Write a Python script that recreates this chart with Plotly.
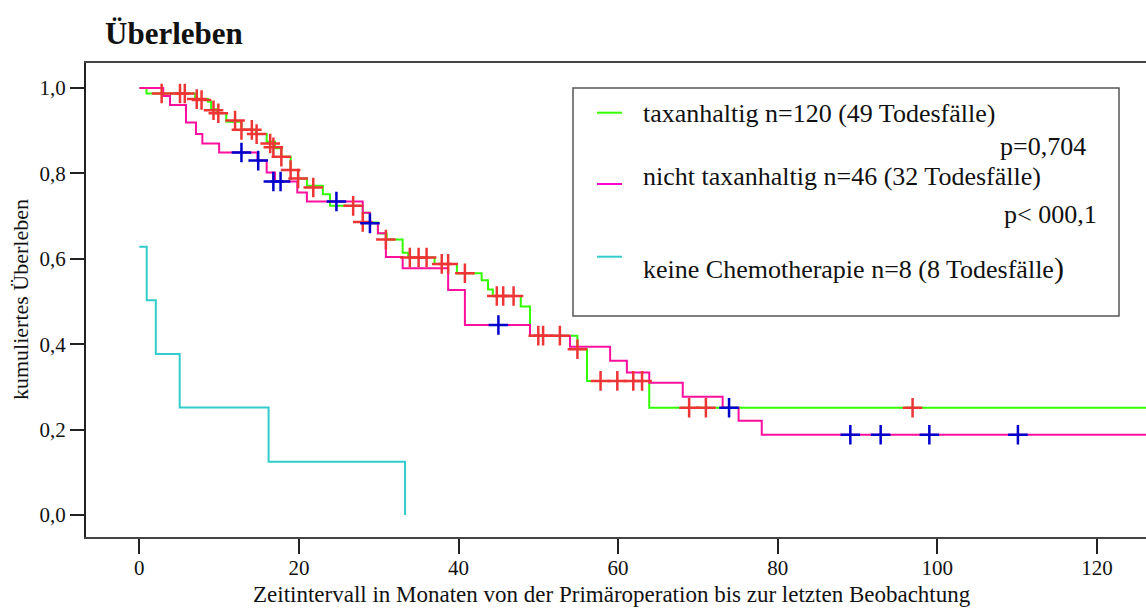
import plotly.graph_objects as go

# ---------------- data ----------------
taxan_t = [0, 0.9, 7.0, 8.6, 9.0, 9.7, 10.9, 12.8, 14.6, 15.96, 17.0, 17.8, 18.96, 19.9,
           21.0, 23.0, 23.9, 28.0, 28.9, 29.9, 31.0, 33.0, 33.7, 37.0, 39.8, 42.9, 43.7,
           44.3, 47.8, 48.96, 54.9, 56.1, 63.9, 130]
taxan_s = [1.0, 0.987, 0.974, 0.968, 0.950, 0.941, 0.921, 0.902, 0.892, 0.874, 0.859, 0.839,
           0.808, 0.788, 0.771, 0.751, 0.724, 0.708, 0.685, 0.659, 0.645, 0.614, 0.603, 0.588,
           0.566, 0.550, 0.528, 0.513, 0.488, 0.420, 0.388, 0.314, 0.251, 0.251]

nontaxan_t = [0, 3.0, 3.85, 5.85, 7.1, 7.9, 10.0, 14.8, 15.96, 17.0, 19.8, 21.0, 28.0, 28.9,
              29.9, 30.9, 33.0, 38.7, 40.8, 48.96, 53.97, 59.0, 61.1, 63.9, 68.1, 73.1, 75.1,
              78.0, 130]
nontaxan_s = [1.0, 0.981, 0.960, 0.919, 0.892, 0.870, 0.849, 0.830, 0.802, 0.781, 0.755,
              0.734, 0.708, 0.683, 0.660, 0.604, 0.578, 0.527, 0.445, 0.420, 0.394, 0.361,
              0.334, 0.310, 0.277, 0.251, 0.221, 0.188, 0.188]

nochemo_t = [0, 0.93, 2.07, 5.06, 16.2, 33.3]
nochemo_s = [0.628, 0.503, 0.377, 0.252, 0.125, 0.0]

# censored observations
taxan_cens_t = [2.8, 5.1, 5.7, 7.2, 7.8, 9.3, 9.9, 12.0, 12.8, 14.1, 14.7, 16.4, 16.8, 17.8,
                18.96, 19.9, 21.8, 26.8, 28.0, 30.9, 33.9, 35.0, 36.0, 37.9, 38.7, 40.8,
                44.8, 45.6, 46.9, 50.0, 50.6, 52.7, 54.9, 57.8, 59.9, 61.9, 63.0, 68.9, 71.0,
                96.9]
taxan_cens_s = [0.987, 0.987, 0.987, 0.974, 0.972, 0.948, 0.941, 0.924, 0.902, 0.902, 0.892,
                0.870, 0.861, 0.839, 0.808, 0.788, 0.767, 0.724, 0.686, 0.645, 0.603, 0.603,
                0.603, 0.588, 0.588, 0.566, 0.513, 0.513, 0.513, 0.420, 0.420, 0.420, 0.388,
                0.314, 0.314, 0.314, 0.314, 0.251, 0.251, 0.251]

nontaxan_cens_t = [12.8, 14.9, 16.8, 17.7, 24.7, 28.9, 45.0, 73.9, 89.1, 92.9, 99.0, 110.1]
nontaxan_cens_s = [0.849, 0.830, 0.781, 0.781, 0.734, 0.683, 0.445, 0.251, 0.188, 0.188,
                   0.188, 0.188]

x_tick_vals = [0, 20, 40, 60, 80, 100, 120]
x_tick_text = ["0", "20", "40", "60", "80", "100", "120"]
y_tick_vals = [0.0, 0.2, 0.4, 0.6, 0.8, 1.0]
y_tick_text = ["0,0", "0,2", "0,4", "0,6", "0,8", "1,0"]

legend_labels = ["taxanhaltig n=120 (49 Todesfälle)",
                 "nicht taxanhaltig n=46 (32 Todesfälle)",
                 "keine Chemotherapie n=8 (8 Todesfälle"]
p_labels = ["p=0,704", "p< 000,1"]

# ---------------- styling ----------------
W, H = 1146, 608
ML, MR, MT, MB = 86, 0, 63, 71
PW, PH = W - ML - MR, H - MT - MB
FONT = "Liberation Serif"
GREEN = "#33ff00"
PINK = "#ff0f9e"
CYAN = "#33cccc"
RED = "#ee3535"
BLUE = "#0000cc"


def px(x):
    return (x - ML) / PW


def py(y):
    return (H - MB - y) / PH


fig = go.Figure()
fig.add_trace(go.Scatter(x=taxan_t, y=taxan_s, mode="lines", line_shape="hv",
                         line=dict(color=GREEN, width=2), showlegend=False))
fig.add_trace(go.Scatter(x=nontaxan_t, y=nontaxan_s, mode="lines", line_shape="hv",
                         line=dict(color=PINK, width=2), showlegend=False))
fig.add_trace(go.Scatter(x=nochemo_t, y=nochemo_s, mode="lines", line_shape="hv",
                         line=dict(color=CYAN, width=2), showlegend=False))
fig.add_trace(go.Scatter(x=taxan_cens_t, y=taxan_cens_s, mode="markers",
                         marker=dict(symbol="cross-thin", size=14,
                                     line=dict(color=RED, width=2.5)),
                         showlegend=False))
fig.add_trace(go.Scatter(x=nontaxan_cens_t, y=nontaxan_cens_s, mode="markers",
                         marker=dict(symbol="cross-thin", size=14,
                                     line=dict(color=BLUE, width=2.5)),
                         showlegend=False))

fig.update_xaxes(range=[-6.68, 126.15], tickvals=x_tick_vals, ticktext=x_tick_text,
                 ticks="outside", ticklen=15, tickwidth=1.5, tickcolor="#222",
                 showline=True, linecolor="#444", linewidth=2, mirror=True,
                 showgrid=False, zeroline=False, ticklabelstandoff=-4,
                 tickfont=dict(family=FONT, size=21, color="#111"))
fig.update_yaxes(range=[-0.0515, 1.0585], tickvals=y_tick_vals, ticktext=y_tick_text,
                 ticks="outside", ticklen=14, tickwidth=1.5, tickcolor="#222",
                 showline=True, linecolor="#222", linewidth=2,
                 showgrid=False, zeroline=False,
                 tickfont=dict(family=FONT, size=21, color="#111"))

shapes = []
annotations = []
# legend box
shapes.append(dict(type="rect", xref="paper", yref="paper",
                   x0=px(573), x1=px(1119), y0=py(316), y1=py(88),
                   line=dict(color="#555", width=1.5), fillcolor="rgba(0,0,0,0)"))
legend_colors = ["#33ff00", "#ff00cc", CYAN]
line_y = [112.7, 184, 256.7]
text_y = [113, 176, 268]
for c, ly, ty, lab in zip(legend_colors, line_y, text_y, legend_labels):
    shapes.append(dict(type="line", xref="paper", yref="paper",
                       x0=px(597), x1=px(622), y0=py(ly), y1=py(ly),
                       line=dict(color=c, width=2)))
    txt = lab if lab.endswith(")") else lab + "<span style='font-size:30px'>)</span>"
    annotations.append(dict(xref="paper", yref="paper", x=px(641), y=py(ty),
                            xanchor="left", yanchor="middle", showarrow=False,
                            text=txt, font=dict(family=FONT, size=26, color="#111")))
for lab, rx, ty in zip(p_labels, [1088, 1099], [147, 214]):
    annotations.append(dict(xref="paper", yref="paper", x=px(rx), y=py(ty),
                            xanchor="right", yanchor="middle", showarrow=False,
                            text=lab, font=dict(family=FONT, size=26, color="#111")))

# titles
annotations.append(dict(xref="paper", yref="paper", x=px(103), y=py(34),
                        xanchor="left", yanchor="middle", showarrow=False,
                        text="<b>Überleben</b>", font=dict(family=FONT, size=31, color="#111")))
annotations.append(dict(xref="paper", yref="paper", x=px(612), y=py(594),
                        xanchor="center", yanchor="middle", showarrow=False,
                        text="Zeitintervall in Monaten von der Primäroperation bis zur letzten Beobachtung",
                        font=dict(family=FONT, size=23, color="#111")))
annotations.append(dict(xref="paper", yref="paper", x=px(20), y=py(300),
                        xanchor="center", yanchor="middle", showarrow=False, textangle=-90,
                        text="kumuliertes Überleben",
                        font=dict(family=FONT, size=22, color="#111")))

fig.update_layout(width=W, height=H, margin=dict(l=ML, r=MR, t=MT, b=MB),
                  plot_bgcolor="white", paper_bgcolor="white",
                  shapes=shapes, annotations=annotations, showlegend=False)

fig.write_html("out.html", config={"displayModeBar": False})
